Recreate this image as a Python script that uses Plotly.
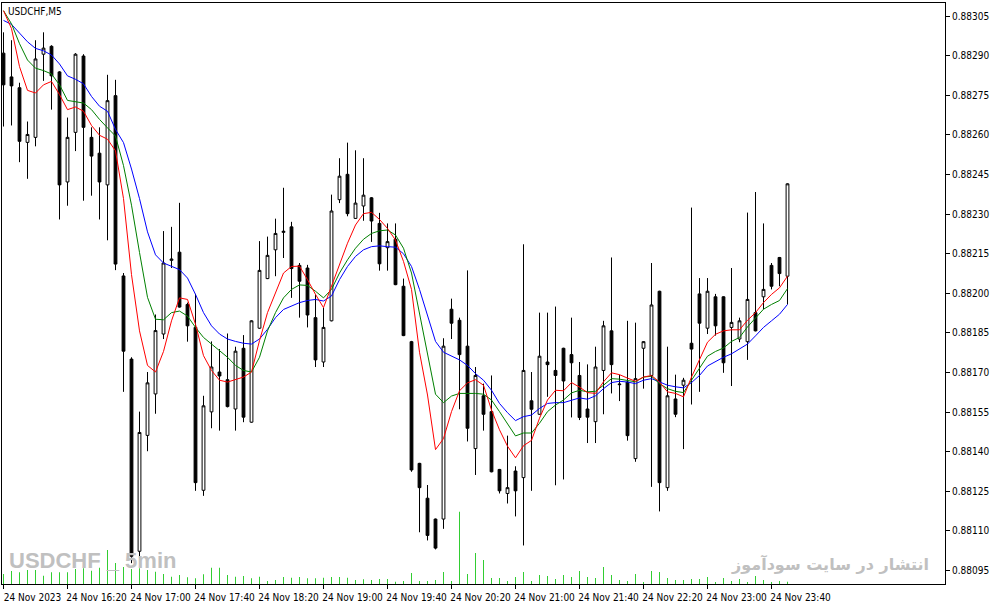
import plotly.graph_objects as go

# prices are in points above 0.88000 (1 point = 0.00001)
base = 0.88

open_pts = [
    291.0, 282.0, 277.9, 257.2, 259.1, 290.6, 293.6, 283.9, 242.2, 261.0,
    289.9, 259.1, 253.1, 241.1, 274.9, 206.6, 175.1, 102.3, 146.2, 161.9,
    184.6, 212.5, 215.6, 195.8, 187.1, 125.4, 155.1, 170.2, 167.3, 156.2,
    179.2, 151.2, 186.8, 205.6, 216.5, 223.1, 225.2, 210.6, 209.6, 190.8,
    174.0, 189.6, 235.5, 245.1, 228.4, 233.1, 236.2, 226.5, 217.3, 220.5,
    202.7, 181.7, 135.6, 122.4, 114.5, 114.5, 194.0, 189.8, 180.0, 141.2,
    161.2, 155.2, 133.3, 124.2, 132.7, 130.2, 159.3, 154.2, 174.0, 170.8,
    179.2, 176.8, 168.9, 156.2, 151.4, 170.8, 185.8, 165.4, 166.4, 137.4,
    179.2, 168.9, 200.8, 126.4, 160.0, 165.2, 181.1, 199.8, 186.8, 198.7,
    198.7, 187.1, 182.7, 181.7, 192.7, 198.7, 210.6, 213.6, 206.5,
]
high_pts = [
    298.9, 295.9, 279.8, 265.1, 295.9, 298.9, 294.0, 284.2, 266.6, 291.0,
    290.6, 262.9, 262.9, 282.8, 280.9, 207.7, 175.8, 155.2, 170.2, 192.0,
    223.6, 225.2, 234.3, 196.5, 199.8, 161.2, 181.8, 178.9, 184.8, 179.8,
    184.2, 189.8, 219.8, 221.5, 228.3, 240.0, 227.1, 211.5, 210.8, 199.6,
    194.6, 237.4, 251.2, 257.1, 254.2, 251.2, 236.5, 230.5, 226.5, 226.5,
    205.6, 182.0, 135.8, 127.4, 114.7, 183.0, 198.0, 190.8, 208.7, 172.1,
    165.8, 168.9, 133.5, 146.1, 134.5, 218.6, 170.2, 192.7, 192.7, 195.0,
    179.4, 190.8, 174.0, 173.1, 179.8, 189.6, 213.6, 169.2, 189.6, 188.9,
    181.9, 211.5, 201.0, 179.8, 169.2, 168.0, 232.5, 205.8, 205.8, 199.8,
    198.9, 209.6, 190.8, 230.6, 238.4, 226.5, 211.5, 213.8, 241.7,
]
low_pts = [
    263.2, 263.6, 249.7, 243.4, 255.7, 280.5, 269.6, 228.0, 233.2, 253.9,
    235.1, 237.0, 228.0, 220.1, 208.8, 162.7, 97.8, 99.7, 140.2, 154.4,
    182.7, 209.6, 194.6, 181.7, 125.2, 123.3, 148.9, 148.0, 156.8, 148.0,
    151.2, 151.0, 186.6, 205.4, 206.5, 213.4, 198.3, 190.8, 187.1, 172.1,
    172.1, 189.4, 234.2, 229.2, 228.2, 227.5, 219.5, 208.6, 208.6, 203.1,
    183.8, 132.4, 109.5, 106.4, 103.0, 110.8, 182.7, 156.1, 143.9, 131.2,
    148.0, 132.2, 124.2, 120.4, 115.5, 104.5, 125.2, 154.0, 160.8, 127.3,
    129.5, 153.0, 152.0, 143.3, 143.3, 154.2, 162.1, 159.2, 144.2, 136.2,
    163.9, 126.7, 117.4, 125.2, 153.1, 141.0, 157.9, 162.7, 184.6, 184.0,
    169.9, 164.9, 181.5, 174.8, 185.6, 194.0, 201.5, 202.7, 195.8,
]
close_pts = [
    279.0, 278.6, 257.6, 260.2, 288.8, 292.9, 282.4, 241.1, 259.1, 290.6,
    262.9, 252.0, 242.2, 273.0, 211.1, 178.1, 100.4, 147.3, 166.1, 185.9,
    211.5, 213.0, 194.8, 187.7, 128.3, 157.4, 172.1, 168.7, 157.1, 178.1,
    153.1, 189.6, 208.7, 214.4, 222.7, 223.5, 209.4, 204.6, 191.8, 174.8,
    187.1, 231.2, 244.4, 230.2, 234.2, 237.2, 227.4, 211.2, 219.6, 203.3,
    184.0, 133.1, 126.4, 108.3, 103.5, 180.0, 188.7, 176.8, 148.9, 168.9,
    154.2, 132.4, 125.2, 126.4, 125.2, 170.8, 156.1, 176.2, 173.0, 168.9,
    166.8, 173.7, 153.0, 153.1, 172.1, 187.7, 173.0, 165.6, 146.1, 167.7,
    181.7, 195.6, 128.3, 161.2, 154.2, 167.1, 178.9, 188.7, 200.8, 187.7,
    173.7, 189.0, 189.6, 197.7, 185.8, 201.5, 202.7, 207.5, 241.5,
]

# moving average lines
ma_red = [
    307.1, 300.3, 285.9, 276.9, 275.9, 279.0, 280.3, 275.3, 269.6, 270.6,
    269.0, 263.6, 259.9, 258.4, 254.0, 235.9, 207.1, 185.8, 172.7, 170.2,
    178.0, 189.6, 198.3, 197.7, 188.3, 176.4, 170.8, 167.1, 166.4, 167.3,
    168.3, 170.2, 182.1, 192.7, 200.2, 207.7, 210.2, 210.3, 205.2, 199.6,
    194.6, 202.7, 210.8, 219.0, 225.9, 230.2, 230.7, 228.0, 224.6, 220.2,
    212.1, 201.5, 177.7, 161.5, 140.8, 145.0, 155.2, 163.1, 166.1, 167.3,
    165.2, 155.8, 148.3, 142.1, 137.7, 142.3, 144.3, 152.7, 159.6, 163.3,
    163.1, 166.2, 164.5, 162.4, 162.1, 166.5, 169.9, 169.2, 167.9, 166.7,
    168.3, 168.9, 166.4, 162.7, 162.1, 160.8, 168.3, 174.6, 181.5, 184.5,
    185.8, 186.2, 186.2, 189.8, 192.7, 196.5, 199.6, 202.1, 206.5,
]
ma_green = [
    307.1, 302.1, 294.6, 288.4, 285.3, 284.4, 283.1, 279.0, 273.1, 272.5,
    272.1, 269.6, 265.9, 262.7, 259.6, 248.4, 233.4, 215.5, 198.5, 190.2,
    190.0, 192.7, 193.3, 191.4, 187.1, 183.3, 180.8, 178.3, 175.8, 172.7,
    170.8, 170.2, 175.8, 185.8, 192.7, 198.3, 201.5, 203.2, 203.0, 200.8,
    198.3, 201.5, 207.7, 212.7, 217.1, 220.5, 222.7, 223.7, 224.0, 222.1,
    217.1, 207.7, 192.7, 176.5, 161.8, 158.6, 161.1, 162.1, 162.1, 162.1,
    161.8, 159.6, 155.2, 150.8, 146.0, 147.1, 147.1, 150.8, 155.2, 157.7,
    159.6, 162.3, 163.3, 162.7, 162.9, 165.2, 167.7, 167.5, 167.1, 166.5,
    168.3, 168.6, 165.8, 163.9, 162.9, 162.4, 167.1, 171.5, 176.2, 178.0,
    179.3, 181.8, 183.3, 187.3, 190.8, 194.0, 195.8, 197.3, 201.8,
]
ma_blue = [
    303.4, 301.9, 298.6, 295.3, 292.8, 291.9, 290.3, 286.9, 282.4, 281.1,
    279.4, 274.6, 270.9, 269.0, 262.1, 257.1, 247.1, 235.9, 223.3, 214.6,
    211.5, 210.2, 209.0, 205.8, 199.6, 192.7, 187.7, 184.6, 182.7, 181.8,
    181.1, 180.8, 182.7, 186.4, 190.8, 193.9, 195.2, 196.5, 197.3, 197.7,
    197.1, 199.0, 205.2, 210.2, 214.0, 216.5, 217.7, 218.0, 217.7, 217.5,
    215.0, 210.2, 201.5, 191.5, 181.8, 177.7, 176.4, 174.8, 172.7, 169.6,
    167.1, 163.3, 158.3, 154.8, 151.8, 153.3, 153.9, 156.4, 158.3, 158.6,
    158.6, 159.6, 160.4, 159.9, 161.2, 163.9, 166.2, 166.7, 166.4, 165.8,
    167.1, 167.7, 166.4, 165.2, 164.6, 164.2, 166.2, 168.9, 172.5, 174.2,
    175.8, 177.1, 178.9, 180.8, 183.9, 187.1, 189.6, 192.1, 195.8,
]

# tick volumes (relative)
volume = [
    30, 39, 35, 42, 42, 25, 35, 35, 35, 45,
    47, 40, 49, 102, 63, 51, 45, 47, 42, 37,
    30, 22, 27, 20, 17, 29, 49, 49, 27, 22,
    24, 17, 22, 9, 12, 21, 19, 21, 17, 17,
    19, 21, 21, 19, 12, 14, 12, 15, 15, 7,
    9, 33, 9, 9, 12, 36, 9, 217, 30, 93,
    72, 18, 18, 9, 21, 36, 9, 27, 24, 15,
    27, 21, 39, 21, 18, 51, 27, 12, 9, 30,
    6, 39, 36, 18, 12, 12, 15, 15, 21, 6,
    18, 9, 15, 6, 24, 12, 4, 9, 7,
]

time_labels = ["24 Nov 2023", "24 Nov 16:20", "24 Nov 17:00", "24 Nov 17:40",
               "24 Nov 18:20", "24 Nov 19:00", "24 Nov 19:40", "24 Nov 20:20",
               "24 Nov 21:00", "24 Nov 21:40", "24 Nov 22:20", "24 Nov 23:00",
               "24 Nov 23:40"]
time_ticks = [0, 8, 16, 24, 32, 40, 48, 56, 64, 72, 80, 88, 96]

price_ticks = ["0.88095", "0.88110", "0.88125", "0.88140", "0.88155", "0.88170",
               "0.88185", "0.88200", "0.88215", "0.88230", "0.88245", "0.88260",
               "0.88275", "0.88290", "0.88305"]


def to_price(pts):
    return [base + v / 1e5 for v in pts]


bars = list(range(len(close_pts)))
axis_font = dict(family="Tahoma, DejaVu Sans Condensed, DejaVu Sans", size=10, color="black")

fig = go.Figure()

fig.add_trace(go.Bar(x=bars, y=volume, yaxis="y2", width=0.125,
                     marker=dict(color="#32CD32", line=dict(width=0)),
                     hoverinfo="skip"))

fig.add_trace(go.Candlestick(
    x=bars,
    open=to_price(open_pts), high=to_price(high_pts),
    low=to_price(low_pts), close=to_price(close_pts),
    whiskerwidth=0,
    increasing=dict(line=dict(color="black", width=1), fillcolor="white"),
    decreasing=dict(line=dict(color="black", width=1), fillcolor="black"),
))

for vals, col in [(ma_blue, "#0000FF"), (ma_green, "#008000"), (ma_red, "#FF0000")]:
    fig.add_trace(go.Scatter(x=bars, y=to_price(vals), mode="lines",
                             line=dict(color=col, width=1), hoverinfo="skip"))

fig.add_annotation(text="USDCHF,M5", xref="paper", yref="paper", x=0, y=1,
                   xanchor="left", yanchor="top", xshift=4, yshift=-1,
                   showarrow=False, font=axis_font)
fig.add_annotation(text="<b>USDCHF _ 5min</b>", xref="paper", yref="paper", x=0, y=0.04,
                   xanchor="left", yanchor="middle", xshift=5, showarrow=False,
                   font=dict(family="Liberation Sans", size=22, color="#C0C0C0"))
fig.add_annotation(text="<b>انتشار در سایت سودآموز</b>", xref="paper", yref="paper",
                   x=0.985, y=0.035, xanchor="right", yanchor="middle", showarrow=False,
                   font=dict(family="DejaVu Sans", size=16, color="#C0C0C0"))

fig.update_layout(
    width=991, height=605, autosize=False,
    margin=dict(l=2, r=46, t=3, b=21, pad=0),
    plot_bgcolor="white", paper_bgcolor="white",
    showlegend=False, boxgap=0.5,
    xaxis=dict(range=[-0.1875, 117.6875], rangeslider=dict(visible=False),
               showgrid=False, zeroline=False, showline=True, mirror=True,
               linecolor="black", linewidth=1, ticks="outside", ticklen=4,
               tickcolor="black", tickvals=time_ticks, ticktext=time_labels,
               tickfont=axis_font, ticklabelshift=29),
    yaxis=dict(range=[0.880899, 0.883100], side="right", showgrid=False,
               zeroline=False, showline=True, mirror=True, linecolor="black",
               linewidth=1, ticks="outside", ticklen=4, tickcolor="black",
               tickvals=[float(t) for t in price_ticks], ticktext=price_ticks,
               tickfont=axis_font),
    yaxis2=dict(overlaying="y", range=[0, 1743], visible=False),
)

# drop the default page margin so the chart sits at the window's top-left
fig.write_html("out.html", config={"displayModeBar": False},
               post_script="document.body.style.margin = '0';")
